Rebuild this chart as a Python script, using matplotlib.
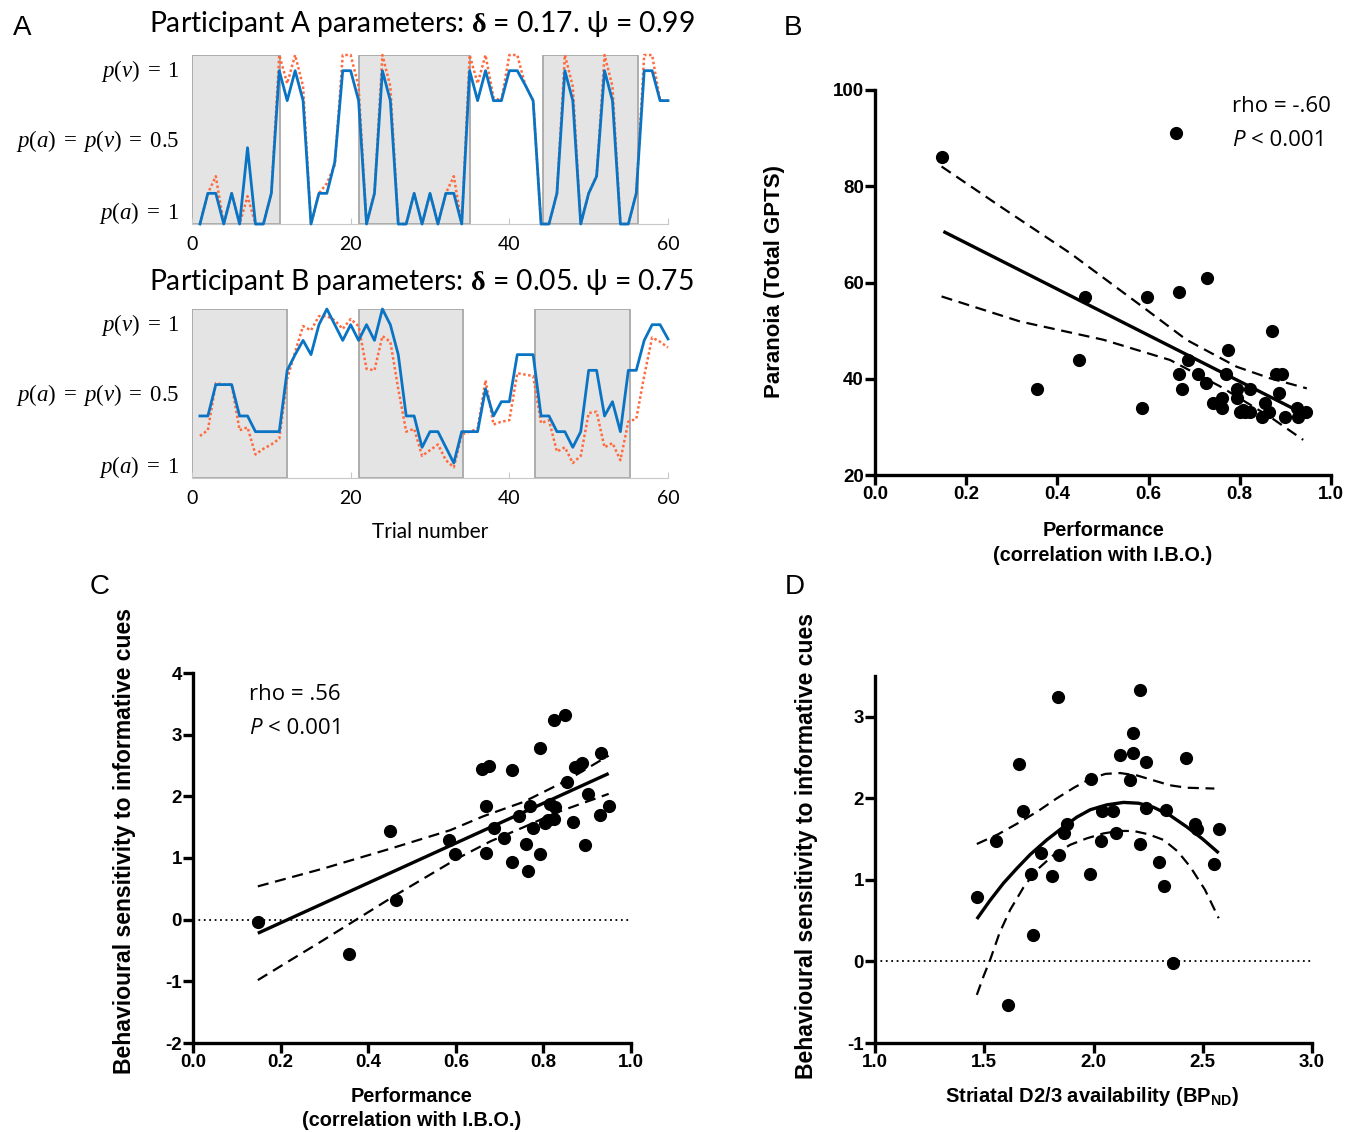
import matplotlib
matplotlib.use("Agg")
import matplotlib.pyplot as plt
from matplotlib.patches import Rectangle

plt.rcParams["mathtext.fontset"] = "custom"
plt.rcParams["mathtext.rm"] = "Liberation Serif"
plt.rcParams["mathtext.it"] = "Liberation Serif:italic"
plt.rcParams["mathtext.bf"] = "Liberation Serif:bold"
plt.rcParams["mathtext.sf"] = "Liberation Sans:bold"
plt.rcParams["mathtext.fallback"] = "stix"

# ---------------- panel A data ----------------
trials = list(range(1, 61))

a_model = [-0.065, 0.15, 0.15, -0.065, 0.15, -0.065, 0.47, -0.065, -0.065, 0.15,
           1.01, 0.80, 1.01, 0.80, -0.065, 0.15, 0.15, 0.37, 1.01, 1.01,
           0.80, -0.065, 0.15, 1.01, 0.80, -0.065, -0.065, 0.15, -0.065, 0.15,
           -0.065, 0.15, 0.15, -0.065, 1.01, 0.80, 1.01, 0.80, 0.80, 1.01,
           1.01, 0.91, 0.80, -0.065, -0.065, 0.15, 1.01, 0.80, -0.065, 0.15,
           0.27, 1.01, 0.80, -0.065, -0.065, 0.15, 1.01, 1.01, 0.80, 0.80]
a_ideal = [-0.065, 0.15, 0.27, -0.065, 0.15, -0.065, 0.13, -0.065, -0.065, 0.15,
           1.12, 0.92, 1.12, 0.90, -0.065, 0.15, 0.22, 0.35, 1.12, 1.12,
           0.90, -0.065, 0.15, 1.12, 0.90, -0.065, -0.065, 0.15, -0.065, 0.15,
           -0.065, 0.15, 0.27, -0.065, 1.12, 0.92, 1.12, 0.82, 0.80, 1.12,
           1.12, 0.91, 0.80, -0.065, -0.065, 0.15, 1.12, 0.90, -0.065, 0.15,
           0.27, 1.12, 0.90, -0.065, -0.065, 0.15, 1.12, 1.12, 0.80, 0.80]
a_blocks = [(0, 11.1), (21.1, 35.1), (44.2, 56.2)]

b_model = [0.37, 0.37, 0.59, 0.59, 0.59, 0.37, 0.37, 0.26, 0.26, 0.26,
           0.26, 0.69, 0.80, 0.90, 0.80, 1.01, 1.12, 1.01, 0.90, 1.01,
           0.90, 1.01, 0.90, 1.12, 1.01, 0.80, 0.37, 0.37, 0.15, 0.26,
           0.26, 0.15, 0.04, 0.26, 0.26, 0.26, 0.56, 0.37, 0.47, 0.47,
           0.80, 0.80, 0.80, 0.37, 0.37, 0.26, 0.26, 0.15, 0.26, 0.69,
           0.69, 0.37, 0.47, 0.26, 0.69, 0.69, 0.90, 1.01, 1.01, 0.91]
b_ideal = [0.23, 0.27, 0.60, 0.59, 0.59, 0.27, 0.29, 0.10, 0.14, 0.17,
           0.21, 0.63, 0.82, 1.00, 0.97, 1.07, 1.07, 1.04, 0.98, 1.05,
           1.00, 0.70, 0.69, 0.93, 0.89, 0.56, 0.26, 0.28, 0.09, 0.13,
           0.17, 0.06, 0.01, 0.24, 0.26, 0.28, 0.62, 0.31, 0.33, 0.34,
           0.67, 0.66, 0.65, 0.32, 0.34, 0.12, 0.15, 0.04, 0.09, 0.39,
           0.40, 0.15, 0.18, 0.06, 0.33, 0.35, 0.65, 0.92, 0.89, 0.85]
b_blocks = [(0, 12.0), (21.1, 34.2), (43.2, 55.2)]

a_ytick_labels = [r"$p(a)\;=\;1$", r"$p(a)\;=\;p(v)\;=\;0.5$", r"$p(v)\;=\;1$"]

# ---------------- panel B data ----------------
b_perf = [0.146, 0.659, 0.461, 0.596, 0.667, 0.727, 0.870, 0.447, 0.355, 0.585,
          0.775, 0.687, 0.667, 0.709, 0.673, 0.726, 0.770, 0.879, 0.892, 0.793,
          0.822, 0.887, 0.741, 0.760, 0.762, 0.793, 0.855, 0.800, 0.811, 0.822,
          0.848, 0.863, 0.899, 0.925, 0.928, 0.945, 0.808]
b_gpts = [86.0, 91.0, 56.9, 56.9, 58.0, 61.0, 50.0, 43.9, 37.9, 33.9,
          46.0, 43.9, 41.0, 41.0, 37.9, 39.1, 41.0, 41.0, 41.0, 37.9,
          37.9, 37.0, 35.0, 35.9, 33.9, 35.9, 35.0, 33.0, 33.0, 33.0,
          32.1, 33.0, 32.0, 33.9, 32.0, 33.0, 33.5]
b_fit_x = [0.15, 0.93]
b_fit_y = [70.6, 33.2]
b_up_x = [0.146, 0.281, 0.428, 0.596, 0.683, 0.793, 0.866, 0.947]
b_up_y = [84.1, 75.4, 66.1, 54.3, 48.1, 42.5, 40.1, 38.0]
b_lo_x = [0.146, 0.318, 0.501, 0.647, 0.757, 0.866, 0.939]
b_lo_y = [57.1, 51.9, 48.1, 43.9, 38.4, 32.1, 27.3]

# ---------------- panel C data ----------------
c_perf = [0.148, 0.357, 0.449, 0.463, 0.585, 0.599, 0.660, 0.675, 0.669, 0.669,
          0.688, 0.711, 0.728, 0.728, 0.744, 0.761, 0.765, 0.770, 0.776, 0.793,
          0.793, 0.803, 0.814, 0.824, 0.827, 0.825, 0.810, 0.849, 0.854, 0.868,
          0.873, 0.888, 0.881, 0.895, 0.902, 0.929, 0.932, 0.949]
c_sens = [-0.03, -0.55, 1.43, 0.32, 1.30, 1.07, 2.45, 2.50, 1.84, 1.08,
          1.48, 1.32, 2.42, 0.94, 1.68, 1.22, 0.79, 1.84, 1.48, 2.79,
          1.06, 1.57, 1.87, 3.24, 1.83, 1.64, 1.61, 3.32, 2.23, 1.58,
          2.48, 2.54, 2.49, 1.21, 2.03, 1.69, 2.70, 1.85]
c_fit_x = [0.148, 0.949]
c_fit_y = [-0.22, 2.37]
c_up_x = [0.148, 0.298, 0.450, 0.587, 0.664, 0.755, 0.854, 0.949]
c_up_y = [0.54, 0.83, 1.15, 1.45, 1.68, 1.91, 2.26, 2.66]
c_lo_x = [0.148, 0.298, 0.463, 0.603, 0.679, 0.755, 0.831, 0.949]
c_lo_y = [-0.98, -0.33, 0.40, 0.99, 1.27, 1.50, 1.74, 2.04]

# ---------------- panel D data ----------------
d_bp = [1.466, 1.554, 1.608, 1.661, 1.676, 1.713, 1.725, 1.759, 1.809, 1.837,
        1.843, 1.866, 1.881, 1.982, 1.989, 2.034, 2.041, 2.090, 2.102, 2.119,
        2.165, 2.180, 2.183, 2.211, 2.214, 2.238, 2.238, 2.299, 2.324, 2.330,
        2.362, 2.424, 2.463, 2.473, 2.553, 2.573]
d_sens = [0.79, 1.48, -0.54, 2.42, 1.84, 1.07, 0.32, 1.33, 1.05, 3.24,
          1.31, 1.58, 1.69, 1.07, 2.24, 1.48, 1.84, 1.84, 1.57, 2.53,
          2.22, 2.55, 2.80, 3.33, 1.44, 2.45, 1.88, 1.22, 0.93, 1.86,
          -0.02, 2.50, 1.68, 1.62, 1.20, 1.63]
d_fit_x = [1.466, 1.527, 1.588, 1.649, 1.710, 1.786, 1.863, 1.924, 1.985, 2.061,
           2.137, 2.206, 2.275, 2.351, 2.427, 2.500, 2.573]
d_fit_y = [0.52, 0.75, 0.96, 1.14, 1.31, 1.49, 1.65, 1.77, 1.86, 1.92,
           1.95, 1.94, 1.89, 1.79, 1.65, 1.50, 1.33]
d_up_x = [1.466, 1.564, 1.664, 1.750, 1.832, 1.910, 1.985, 2.055, 2.122, 2.200,
          2.275, 2.350, 2.427, 2.553]
d_up_y = [1.44, 1.56, 1.71, 1.85, 2.00, 2.13, 2.24, 2.30, 2.31, 2.28,
          2.22, 2.16, 2.13, 2.12]
d_lo_x = [1.466, 1.497, 1.527, 1.570, 1.618, 1.680, 1.740, 1.815, 1.893, 1.970,
          2.046, 2.115, 2.183, 2.250, 2.321, 2.385, 2.443, 2.510, 2.573]
d_lo_y = [-0.41, -0.18, 0.02, 0.35, 0.63, 0.91, 1.12, 1.30, 1.43, 1.51,
          1.57, 1.60, 1.60, 1.56, 1.49, 1.35, 1.16, 0.88, 0.53]

W, H = 1348, 1132
fig = plt.figure(figsize=(W / 100, H / 100), dpi=100)


def rect(x0, y0, x1, y1):
    # pixel box (top-left origin) -> figure fraction
    return [x0 / W, 1 - y1 / H, (x1 - x0) / W, (y1 - y0) / H]


SANS_A = "Lato"
BLUE = "#0a74c4"
ORANGE = "#ff6a3d"


def trial_panel(box, model, ideal, blocks):
    ax = fig.add_axes(rect(*box))
    for b0, b1 in blocks:
        ax.add_patch(Rectangle((b0, -0.065), b1 - b0, 1.185, facecolor="#e4e4e4",
                               edgecolor="#a8a8a8", lw=1.3, zorder=0))
    ax.plot(trials, ideal, ls=(0, (1, 1)), color=ORANGE, lw=1.8, zorder=2, clip_on=False)
    ax.plot(trials, model, color=BLUE, lw=2.0, zorder=3, clip_on=False)
    ax.set_xlim(0, 60)
    ax.set_ylim(-0.065, 1.12)
    for s in ["top", "right", "left"]:
        ax.spines[s].set_visible(False)
    ax.spines["bottom"].set_color("#c8c8c8")
    ax.set_xticks([0, 20, 40, 60])
    ax.tick_params(axis="x", direction="in", length=4, color="#c8c8c8",
                   labelsize=14, pad=9)
    for lab in ax.get_xticklabels():
        lab.set_fontfamily(SANS_A)
    ax.set_yticks([0.04, 0.54, 1.035])
    ax.set_yticklabels(a_ytick_labels, fontsize=16.5)
    ax.tick_params(axis="y", length=0, pad=9)
    return ax


trial_panel((192, 55, 668, 224), a_model, a_ideal, a_blocks)
trial_panel((192, 309, 668, 478), b_model, b_ideal, b_blocks)

fig.text(422 / W, 1 - 24 / H,
         r"Participant A parameters: $\mathbf{\delta}$ = 0.17. ψ = 0.99",
         ha="center", va="center", fontsize=20.3, family=SANS_A)
fig.text(421 / W, 1 - 282 / H,
         r"Participant B parameters: $\mathbf{\delta}$ = 0.05. ψ = 0.75",
         ha="center", va="center", fontsize=20.3, family=SANS_A)
fig.text(430 / W, 1 - 532 / H, "Trial number", ha="center", va="center",
         fontsize=15, family=SANS_A)

# ---------------- scatter panels ----------------
BOLD = dict(family="Liberation Sans", fontweight="bold")


def prism_axes(box, xlim, ylim, xticks, yticks, xfmt, yfmt):
    ax = fig.add_axes(rect(*box))
    ax.set_xlim(*xlim)
    ax.set_ylim(*ylim)
    for s in ["top", "right"]:
        ax.spines[s].set_visible(False)
    for s in ["left", "bottom"]:
        ax.spines[s].set_linewidth(2.4)
    ax.set_xticks(xticks)
    ax.set_yticks(yticks)
    ax.set_xticklabels([xfmt.format(v) for v in xticks])
    ax.set_yticklabels([yfmt.format(v) for v in yticks])
    ax.tick_params(length=7, width=2.4, labelsize=13.5, pad=1)
    for lab in ax.get_xticklabels() + ax.get_yticklabels():
        lab.set_fontfamily("Liberation Sans")
        lab.set_fontweight("bold")
    return ax


def fit_lines(ax, fx, fy, ux, uy, lx, ly):
    ax.plot(fx, fy, color="black", lw=2.4, solid_capstyle="butt", zorder=3)
    ax.plot(ux, uy, color="black", lw=1.6, ls=(0, (5, 3)), zorder=3)
    ax.plot(lx, ly, color="black", lw=1.6, ls=(0, (5, 3)), zorder=3)


def stats_text(x, y, rho):
    fig.text(x / W, 1 - y / H, rho, fontsize=16, family="Open Sans", va="center")
    fig.text(x / W, 1 - (y + 33) / H, "P", fontsize=16, family="Open Sans",
             style="italic", va="center")
    fig.text((x + 19) / W, 1 - (y + 33) / H, "< 0.001", fontsize=16, family="Open Sans",
             va="center")


# B
axB = prism_axes((875, 90, 1331, 475), (0, 1), (20, 100),
                 [0, 0.2, 0.4, 0.6, 0.8, 1.0], [20, 40, 60, 80, 100], "{:.1f}", "{:d}")
axB.scatter(b_perf, b_gpts, s=72, color="black", zorder=4, clip_on=False)
fit_lines(axB, b_fit_x, b_fit_y, b_up_x, b_up_y, b_lo_x, b_lo_y)
stats_text(1232, 107, "rho = -.60")
fig.text(775 / W, 1 - 282 / H, "Paranoia (Total GPTS)", rotation=90, ha="center",
         va="center", fontsize=16, **BOLD)
fig.text(1103 / W, 1 - 530 / H, "Performance", ha="center", va="center", fontsize=14.3, **BOLD)
fig.text(1103 / W, 1 - 556 / H, "(correlation with I.B.O.)", ha="center", va="center",
         fontsize=14.3, **BOLD)

# C
axC = prism_axes((193, 673, 631, 1043), (0, 1), (-2, 4),
                 [0, 0.2, 0.4, 0.6, 0.8, 1.0], [-2, -1, 0, 1, 2, 3, 4], "{:.1f}", "{:d}")
axC.axhline(0, color="black", lw=1.3, ls=(0, (1, 2)), zorder=1)
axC.scatter(c_perf, c_sens, s=72, color="black", zorder=4)
fit_lines(axC, c_fit_x, c_fit_y, c_up_x, c_up_y, c_lo_x, c_lo_y)
stats_text(249, 695, "rho = .56")
fig.text(125 / W, 1 - 841 / H, "Behavioural sensitivity to informative cues", rotation=90,
         ha="center", va="center", fontsize=16.6, **BOLD)
fig.text(412 / W, 1 - 1096 / H, "Performance", ha="center", va="center", fontsize=14.3, **BOLD)
fig.text(412 / W, 1 - 1120 / H, "(correlation with I.B.O.)", ha="center", va="center",
         fontsize=14.3, **BOLD)

# D
axD = prism_axes((875, 676, 1312, 1043), (1, 3), (-1, 3.5),
                 [1.0, 1.5, 2.0, 2.5, 3.0], [-1, 0, 1, 2, 3], "{:.1f}", "{:d}")
axD.axhline(0, color="black", lw=1.3, ls=(0, (1, 2)), zorder=1)
axD.scatter(d_bp, d_sens, s=72, color="black", zorder=4)
fit_lines(axD, d_fit_x, d_fit_y, d_up_x, d_up_y, d_lo_x, d_lo_y)
fig.text(806 / W, 1 - 846 / H, "Behavioural sensitivity to informative cues", rotation=90,
         ha="center", va="center", fontsize=16.6, **BOLD)
fig.text(1092 / W, 1 - 1096 / H, r"Striatal D2/3 availability (BP$_{\mathsf{ND}}$)",
         ha="center", va="center", fontsize=14.5, **BOLD)

# panel letters
for letter, (px, py) in {"A": (22, 28), "B": (793, 28), "C": (100, 587), "D": (795, 587)}.items():
    fig.text(px / W, 1 - py / H, letter, ha="center", va="center", fontsize=20,
             family="Liberation Sans")

fig.savefig("out.png", dpi=100)
